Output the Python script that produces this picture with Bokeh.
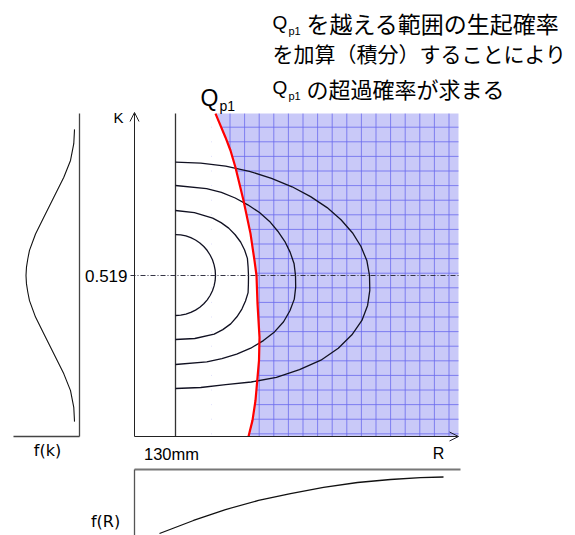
from bokeh.plotting import figure
from bokeh.models import Range1d, Label, Arrow, OpenHead
from bokeh.embed import file_html
from bokeh.resources import INLINE

# ------------------------------------------------------------------ data
R_MARK = 130.0          # mm, vertical reference line
K_MEAN = 0.519          # mean of K (dash-dot line)

# Q_p1 limit-state curve  (R [mm], K)
qp1_R = [150.0, 155.0, 157.5, 160.0, 164.0, 167.5, 169.5, 170.5, 171.0, 172.0, 171.75, 171.0, 170.0, 168.5, 166.5]
qp1_K = [1.041, 0.964, 0.922, 0.867, 0.761, 0.654, 0.567, 0.519, 0.429, 0.319, 0.245, 0.190, 0.116, 0.052, 0.0]

# joint-density contours (half closed curves starting on R = 130 mm)
c1_R = [130.0, 132.61, 135.2, 137.65, 140.0, 142.18, 144.15, 145.87, 147.3, 148.48, 149.3, 149.83, 150.0,
        149.83, 149.3, 148.48, 147.3, 145.87, 144.15, 142.18, 140.0, 137.65, 135.2, 132.61, 130.0]
c1_K = [0.651, 0.6501, 0.6467, 0.6411, 0.6335, 0.6239, 0.6125, 0.5995, 0.5851, 0.5696, 0.5532, 0.5363, 0.519,
        0.5022, 0.4855, 0.4697, 0.4545, 0.4405, 0.4278, 0.4167, 0.4075, 0.3999, 0.3946, 0.3912, 0.3901]
c2_R = [130.0, 139.45, 148.6, 152.78, 156.6, 159.83, 162.55, 164.55, 165.95, 166.3, 166.5,
        166.45, 166.3, 165.0, 163.2, 160.7, 157.6, 153.65, 149.35, 139.65, 130.0]
c2_K = [0.7286, 0.7215, 0.7041, 0.6894, 0.6718, 0.6504, 0.6270, 0.6012, 0.5741, 0.5467, 0.519,
        0.4916, 0.4639, 0.4368, 0.4107, 0.3859, 0.3630, 0.3446, 0.3298, 0.3159, 0.3127]
c3_R = [130.0, 145.55, 152.95, 159.85, 166.15, 172.0, 177.05, 181.15, 184.7, 187.35, 189.3, 190.0,
        190.1, 189.4, 187.2, 184.05, 179.5, 173.95, 167.6, 160.6, 153.2, 145.65, 130.0]
c3_K = [0.8092, 0.7992, 0.7872, 0.7689, 0.7469, 0.7221, 0.6934, 0.6618, 0.6286, 0.5935, 0.5567, 0.519,
        0.4813, 0.4429, 0.4055, 0.3698, 0.3372, 0.3092, 0.2847, 0.2656, 0.2514, 0.2405, 0.2321]
c4_R = [130.0, 142.65, 155.1, 166.95, 178.0, 188.3, 197.55, 205.8, 212.75, 218.45, 222.75, 225.7, 227.0,
        227.15, 226.05, 223.2, 218.2, 211.4, 202.7, 192.0, 180.45, 167.85, 155.1, 142.65, 130.0]
c4_K = [0.8843, 0.8810, 0.8717, 0.8549, 0.8320, 0.8050, 0.7734, 0.7379, 0.6989, 0.6570, 0.6125, 0.5664, 0.519,
        0.4710, 0.4226, 0.3740, 0.3279, 0.2843, 0.2460, 0.2157, 0.1908, 0.1757, 0.1673, 0.1580, 0.1547]

# marginal density f(k) (relative units)
fk_K = [0.990, 0.944, 0.890, 0.836, 0.771, 0.707, 0.653, 0.600, 0.573, 0.546, 0.519,
        0.492, 0.465, 0.438, 0.385, 0.331, 0.267, 0.202, 0.148, 0.094, 0.048]
fk_f = [0.093, 0.107, 0.168, 0.293, 0.480, 0.667, 0.822, 0.935, 0.966, 0.991, 1.000,
        0.991, 0.966, 0.935, 0.822, 0.667, 0.480, 0.293, 0.168, 0.107, 0.093]

# marginal density f(R) (relative units)
fR_R = [122.0, 139.0, 155.0, 171.5, 187.5, 204.0, 221.0, 237.5, 252.5, 264.0]
fR_f = [1.196, 0.953, 0.748, 0.579, 0.449, 0.336, 0.243, 0.187, 0.150, 0.140]

# ------------------------------------------------------------------ layout
W, H = 575, 535
PX_L, PX_R = 0, W              # screen x of frame edges
PX_B, PX_T = H, 0              # screen y of frame edges


def rng(v_ref, px_ref, per_px, px_a, px_b):
    return Range1d(start=v_ref + (px_a - px_ref) * per_px,
                   end=v_ref + (px_b - px_ref) * per_px)


p = figure(width=W, height=H, output_backend="svg", toolbar_location=None,
           x_range=Range1d(PX_L, PX_R), y_range=Range1d(PX_B, PX_T),
           x_axis_location=None, y_axis_location=None, min_border=0,
           background_fill_color="white", border_fill_color="white")
p.outline_line_color = None
p.grid.visible = False

p.extra_x_ranges = {"R": rng(R_MARK, 175, 0.5, PX_L, PX_R),
                    "fk": rng(0.0, 79, -1 / 53.5, PX_L, PX_R)}
p.extra_y_ranges = {"K": rng(0.0, 436, -1 / 310.2, PX_B, PX_T),
                    "fR": rng(0.0, 469, 1 / 53.5, PX_B, PX_T)}

RK = dict(x_range_name="R", y_range_name="K")
R_AX0, R_AX1 = 109.5, 271.5     # R-axis extent (mm)
K_TOP, K_ARROW = 1.041, 1.0445  # top of region / top of K arrow

# shaded exceedance region
p.patch(x=qp1_R + [R_AX1, R_AX1], y=qp1_K + [0.0, K_TOP],
        fill_color="#C9C9F8", line_color=None, **RK)
STEP_R, STEP_K = 7.3, 0.04707
gx, r = [], 266.75
while r >= 150.5:
    gx.append(r)
    r -= STEP_R
gy, k = [], 0.9971
while k > 0.005:
    gy.append(k)
    k -= STEP_K
p.segment(x0=gx, y0=[0.0] * len(gx), x1=gx, y1=[K_TOP] * len(gx),
          line_color="#6A6AEE", line_width=1, line_alpha=0.8, **RK)
p.segment(x0=[148.0] * len(gy), y0=gy, x1=[R_AX1] * len(gy), y1=gy,
          line_color="#6A6AEE", line_width=1, line_alpha=0.8, **RK)
# white mask left of the Q_p1 curve
p.patch(x=[148.0] + qp1_R + [148.0], y=[K_TOP] + qp1_K + [0.0],
        fill_color="white", line_color=None, **RK)

# reference line R = 130 mm
p.line([R_MARK, R_MARK], [0.0, K_TOP], line_color="#333333", line_width=1.3, **RK)

# contours
for cx, cy in ((c1_R, c1_K), (c2_R, c2_K), (c3_R, c3_K), (c4_R, c4_K)):
    p.line(cx, cy, line_color="#111122", line_width=1.3, line_join="round", **RK)

# mean line
p.line([107.5, R_AX1], [K_MEAN, K_MEAN], line_color="#333344", line_width=1,
       line_dash="5 2 1 2", **RK)

# Q_p1 curve
p.line(qp1_R, qp1_K, line_color="#FF0000", line_width=2.2, line_join="round", **RK)

# axes with arrow heads
p.add_layout(Arrow(end=OpenHead(size=9, line_width=1, line_color="#222222"),
                   x_start=R_AX0, y_start=0.0, x_end=R_AX0, y_end=K_ARROW,
                   line_color="#222222", line_width=1, **RK))
p.add_layout(Arrow(end=OpenHead(size=9, line_width=1, line_color="#222233"),
                   x_start=R_AX0, y_start=0.0, x_end=R_AX1, y_end=0.0,
                   line_color="#222222", line_width=1, **RK))

# f(k) panel
p.line([0.0, 0.0], [0.0, K_TOP], line_color="#444444", line_width=1.3,
       x_range_name="fk", y_range_name="K")
p.line([0.0, 1.234], [0.0, 0.0], line_color="#444444", line_width=1.3,
       x_range_name="fk", y_range_name="K")
p.line(fk_f, fk_K, line_color="#111111", line_width=1.1, line_join="round",
       x_range_name="fk", y_range_name="K")

# f(R) panel
p.line([R_AX0, 272.5], [0.0, 0.0], line_color="#777777", line_width=2,
       x_range_name="R", y_range_name="fR")
p.line([R_AX0, R_AX0], [0.0, 1.3], line_color="#555555", line_width=1.3,
       x_range_name="R", y_range_name="fR")
p.line(fR_R, fR_f, line_color="#111111", line_width=1.3, line_join="round",
       x_range_name="R", y_range_name="fR")

# ------------------------------------------------------------------ texts
SANS = "Liberation Sans"
JP = "Noto Sans CJK JP"


def lab(x, y, text, size, font=SANS, align="left", base="middle", **kw):
    p.add_layout(Label(x=x, y=y, text=text, text_font=font, text_font_size=size,
                       text_align=align, text_baseline=base, text_color="black", **kw))


# annotation block
lab(272, 22, "Q", "19px")
lab(288, 30, "p1", "11px")
lab(306, 22, "を越える範囲の生起確率", "23px", JP)
lab(272, 52, "を加算（積分）することにより", "21px", JP)
lab(272, 87, "Q", "19px")
lab(288, 95, "p1", "11px")
lab(306, 87, "の超過確率が求まる", "22px", JP)

# Q_p1 curve label
lab(200, 97, "Q", "23px")
lab(219, 105, "p1", "14px")

# axis texts
lab(118, 117, "K", "15px", align="center")
lab(127, K_MEAN, "0.519", "17px", align="right", y_range_name="K")
lab(R_MARK, 453, "130mm", "16.5px", align="center", x_range_name="R", x_offset=-4)
lab(438, 453, "R", "16px", align="center")
lab(47, 450, "f(k)", "16px", font="DejaVu Sans", align="center")
lab(105, 521, "f(R)", "16px", font="DejaVu Sans", align="center")

open("out.html", "w").write(file_html(p, INLINE))
